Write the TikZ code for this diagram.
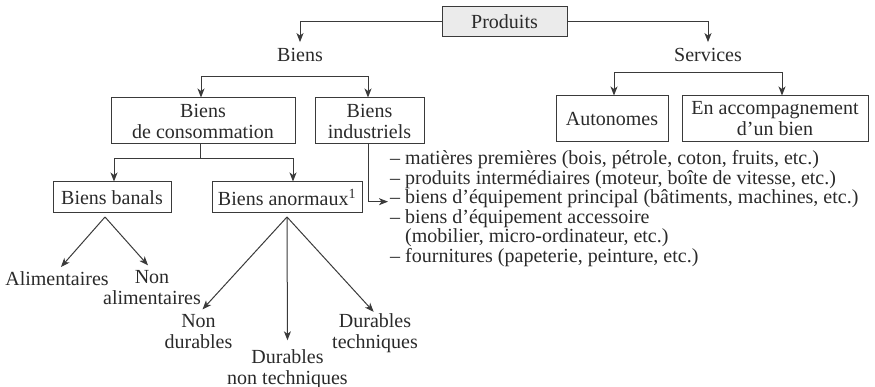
\documentclass[tikz,border=0pt]{standalone}
\usepackage{fontspec}
\setmainfont{Liberation Serif}
\usetikzlibrary{arrows.meta}
\definecolor{lncol}{HTML}{3A3A3A}
\definecolor{txcol}{HTML}{2A2A2A}
\definecolor{pfcol}{HTML}{EBEBEB}
\begin{document}
\begin{tikzpicture}[x=1pt,y=-1pt,
  every node/.style={font=\fontsize{20}{21}\selectfont, text=txcol, inner sep=0pt},
  box/.style={draw=lncol, line width=1pt, align=center},
  lbl/.style={align=center, anchor=north},
  lineplain/.style={draw=lncol, line width=1pt},
  arr/.style={draw=lncol, line width=1pt, -{Stealth[length=9pt,width=7pt,inset=2.5pt]}},
  item/.style={anchor=base west}
]
\useasboundingbox (0,0) rectangle (875,387);

% top level
\node[box, fill=pfcol, minimum width=125pt, minimum height=30pt] (prod) at (504.5,22) {Produits};
\node (biens) at (300,55) {Biens};
\node (serv) at (708,55) {Services};
\draw[arr, shorten >=6pt] (prod.west) -| (biens.north);
\draw[arr, shorten >=6pt] (prod.east) -| (serv.north);

% Biens level
\node[box, minimum width=184pt, minimum height=46pt] (bc) at (203,121) {Biens\\de consommation};
\node[box, minimum width=109pt, minimum height=46pt] (bi) at (369.5,121) {Biens\\industriels};
\coordinate (bsplit) at (285,77);
\draw[arr] (bsplit) -| ([xshift=-2pt]bc.north);
\draw[arr] (bsplit) -| ([xshift=-1.5pt]bi.north);

% Services level
\node[box, minimum width=112pt, minimum height=46pt] (auto) at (612,119) {Autonomes};
\node[box, minimum width=186pt, minimum height=46pt] (acc) at (775,119) {En accompagnement\\d’un bien};
\coordinate (ssplit) at (700,73);
\draw[arr] (ssplit) -| ([xshift=2pt]auto.north);
\draw[arr] (ssplit) -| ([xshift=7pt]acc.north);

% consumption goods
\node[box, minimum width=118pt, minimum height=31pt] (bb) at (112,197.5) {Biens banals};
\node[box, minimum width=150pt, minimum height=31pt] (ba) at (287,197.5) {Biens anormaux\textsuperscript{1}};
\coordinate (csplit) at (200,159);
\draw[lineplain] ([xshift=-3pt]bc.south) -- (csplit);
\draw[arr] (csplit) -| ([xshift=2pt]bb.north);
\draw[arr] (csplit) -| ([xshift=6pt]ba.north);

% industrial goods list
\node[item] (l1) at (390,165) {– matières premières (bois, pétrole, coton, fruits, etc.)};
\node[item] (l2) at (390,184.5) {– produits intermédiaires (moteur, boîte de vitesse, etc.)};
\node[item] (l3) at (390,204) {– biens d’équipement principal (bâtiments, machines, etc.)};
\node[item] (l4) at (390,223.5) {– biens d’équipement accessoire};
\node[item] (l5) at (390,243) {\phantom{– }(mobilier, micro-ordinateur, etc.)};
\node[item] (l6) at (390,262.5) {– fournitures (papeterie, peinture, etc.)};
\draw[arr, shorten >=2pt] ([xshift=-1.5pt]bi.south) |- ([yshift=-2.5pt]l3.west);

% banals
\coordinate (a1) at (105,217);
\node[lbl] (alim) at (57,271.5) {Alimentaires};
\node[lbl] (nalim) at (152,269.8) {Non\\alimentaires};
\draw[arr, shorten >=6pt] (a1) -- (alim.north);
\draw[arr, shorten >=6pt] (a1) -- (nalim.north);

% anormaux
\coordinate (a2) at (287,217);
\node[lbl] (nd) at (198.5,313.8) {Non\\durables};
\node[lbl] (dnt) at (287.5,349.3) {Durables\\non techniques};
\node[lbl] (dt) at (375,313.3) {Durables\\techniques};
\draw[arr, shorten >=6pt] (a2) -- (nd.north);
\draw[arr, shorten >=9pt] (a2) -- (dnt.north);
\draw[arr, shorten >=2pt] (a2) -- (dt.north);
\end{tikzpicture}
\end{document}
